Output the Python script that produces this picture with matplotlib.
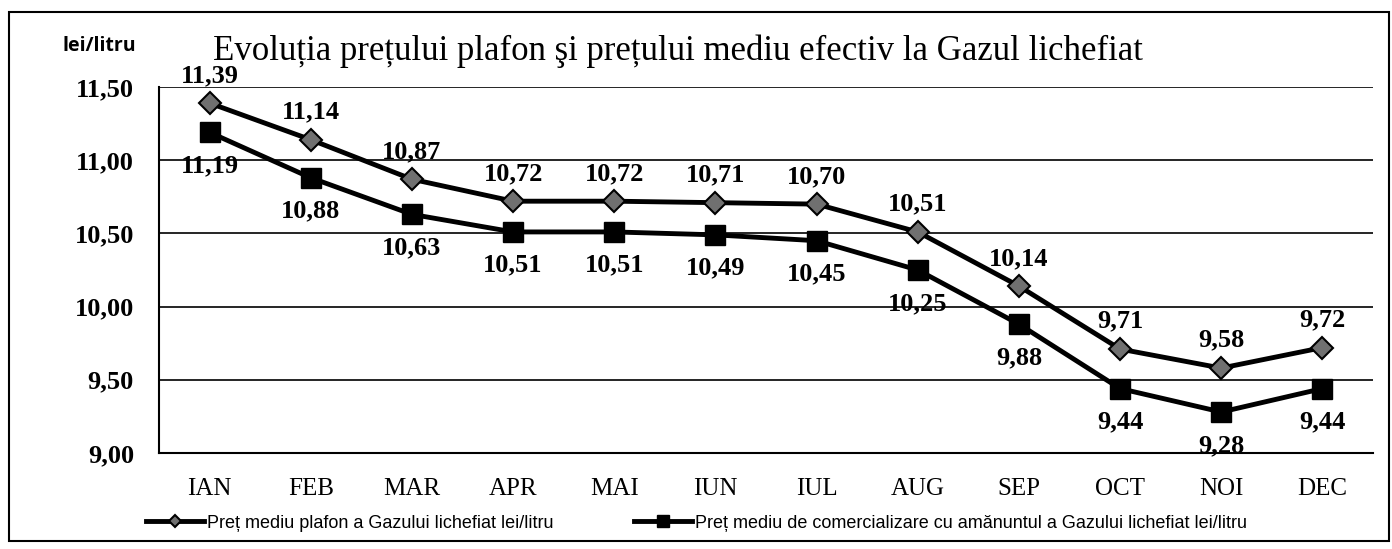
import matplotlib.pyplot as plt
from matplotlib.patches import Rectangle
from matplotlib.ticker import FuncFormatter

months = ['IAN', 'FEB', 'MAR', 'APR', 'MAI', 'IUN', 'IUL', 'AUG', 'SEP', 'OCT', 'NOI', 'DEC']
pret_plafon = [11.39, 11.14, 10.87, 10.72, 10.72, 10.71, 10.70, 10.51, 10.14, 9.71, 9.58, 9.72]
pret_mediu = [11.19, 10.88, 10.63, 10.51, 10.51, 10.49, 10.45, 10.25, 9.88, 9.44, 9.28, 9.44]
y_ticks = [9.0, 9.5, 10.0, 10.5, 11.0, 11.5]

label_plafon = 'Preț mediu plafon a Gazului lichefiat lei/litru'
label_mediu = 'Preț mediu de comercializare cu amănuntul a Gazului lichefiat lei/litru'
title = 'Evoluția prețului plafon şi prețului mediu efectiv la Gazul lichefiat'

serif = ['Liberation Serif', 'DejaVu Serif']
sans = ['Liberation Sans', 'DejaVu Sans']

W, H = 1392, 549
fig = plt.figure(figsize=(W / 100, H / 100), dpi=100)
ax = fig.add_axes([159 / W, 1 - 453 / H, (1373 - 159) / W, (453 - 87) / H])

x = list(range(len(months)))
ax.plot(x, pret_plafon, color='black', lw=3.5, marker='D', ms=11,
        mfc='#707070', mec='black', mew=1.5, label=label_plafon, zorder=3)
ax.plot(x, pret_mediu, color='black', lw=3.5, marker='s', ms=14,
        mfc='black', mec='black', label=label_mediu, zorder=3)

# labels: ceiling price above its markers, retail price below
for i, v in enumerate(pret_plafon):
    ax.annotate(f'{v:.2f}'.replace('.', ','), (i, v), xytext=(0, 20),
                textcoords='offset points', ha='center', va='center',
                fontsize=19, fontweight='bold', family=serif, zorder=4)
for i, v in enumerate(pret_mediu):
    ax.annotate(f'{v:.2f}'.replace('.', ','), (i, v), xytext=(0, -24),
                textcoords='offset points', ha='center', va='center',
                fontsize=19, fontweight='bold', family=serif, zorder=4)

ax.set_xlim(-0.5, 11.5)
ax.set_ylim(9.0, 11.5)
ax.set_yticks(y_ticks)
ax.yaxis.set_major_formatter(FuncFormatter(lambda v, p: f'{v:.2f}'.replace('.', ',')))
ax.set_xticks(x)
ax.set_xticklabels(months)
ax.grid(axis='y', color='black', lw=1.2)
ax.set_axisbelow(True)
for s in ['top', 'right']:
    ax.spines[s].set_visible(False)
for s in ['left', 'bottom']:
    ax.spines[s].set_linewidth(1.5)
ax.tick_params(axis='both', length=0)
ax.tick_params(axis='y', pad=18)
ax.tick_params(axis='x', pad=18)
for t in ax.get_yticklabels():
    t.set_family(serif)
    t.set_fontsize(19)
    t.set_fontweight('bold')
for t in ax.get_xticklabels():
    t.set_family(serif)
    t.set_fontsize(18)

fig.text(213 / W, 1 - 51 / H, title, fontsize=25, family=serif, ha='left', va='center')
fig.text(63 / W, 1 - 46 / H, 'lei/litru', fontsize=14, fontweight='bold',
         family=['Open Sans', 'DejaVu Sans'], ha='left', va='center')

handles, labels = ax.get_legend_handles_labels()
fig.legend(handles, labels, loc='center left', bbox_to_anchor=(130 / W, 1 - 523 / H),
           ncol=2, frameon=False, prop={'family': sans, 'size': 13},
           handlelength=3.2, handletextpad=0.15, columnspacing=4.5, markerscale=0.6)

fig.patches.append(Rectangle((9 / W, 1 - 541 / H), (1389 - 9) / W, (541 - 12) / H,
                             transform=fig.transFigure, fill=False, ec='black', lw=1.5))

fig.savefig('out.png', dpi=100)
